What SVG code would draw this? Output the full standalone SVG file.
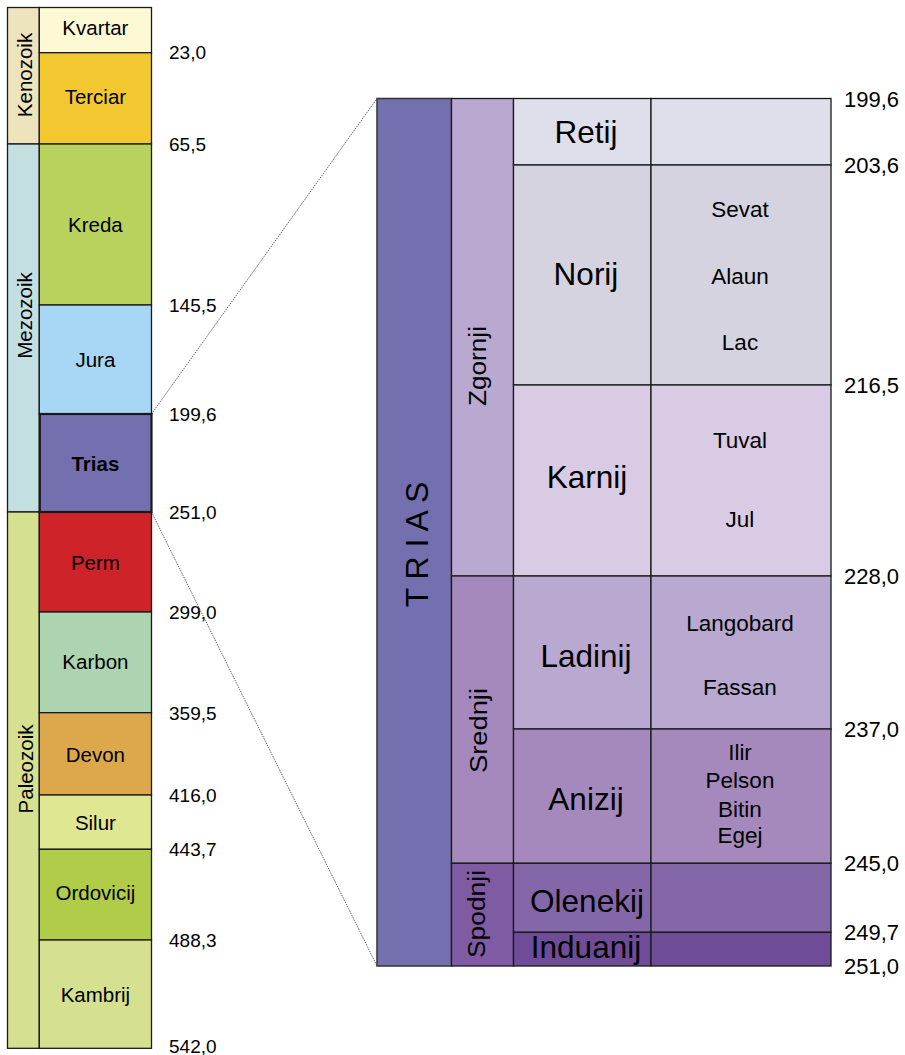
<svg xmlns="http://www.w3.org/2000/svg" width="905" height="1055" viewBox="0 0 905 1055">
<style>
  .b { stroke:#1a1a1a; stroke-width:1.3; }
  .t { font-family:"Liberation Sans", Arial, sans-serif; fill:#000; }
  .per { font-size:20.5px; text-anchor:middle; }
  .era { font-size:20.5px; text-anchor:middle; }
  .num { font-size:19px; }
  .rnum { font-size:22px; }
  .stg { font-size:31.5px; text-anchor:middle; }
  .sub { font-size:22.5px; text-anchor:middle; }
  .ep { font-size:23px; text-anchor:middle; }
  .con { stroke:#555; stroke-width:0.9; stroke-dasharray:1.5 1; fill:none; }
</style>
<rect width="905" height="1055" fill="#ffffff"/>

<g id="connectors">
  <line class="con" x1="151.5" y1="414" x2="377" y2="98.5"/>
  <line class="con" x1="151.5" y1="512" x2="377" y2="966"/>
</g>

<!-- Left column: eras -->
<g id="kenozoik">
  <rect class="b" x="7.5" y="7.5" width="31.8" height="136.5" fill="#ede3bc"/>
  <text class="t era" transform="translate(31.5,75) rotate(-90)">Kenozoik</text>
</g>
<g id="mezozoik">
  <rect class="b" x="7.5" y="144" width="31.8" height="368" fill="#c4dfe2"/>
  <text class="t era" transform="translate(31.5,315.5) rotate(-90)">Mezozoik</text>
</g>
<g id="paleozoik">
  <rect class="b" x="7.5" y="512" width="31.8" height="536.3" fill="#d5e190"/>
  <text class="t era" transform="translate(32.5,769) rotate(-90)">Paleozoik</text>
</g>

<!-- Left column: periods -->
<g id="kvartar">
  <rect class="b" x="39.3" y="7.5" width="112.2" height="45.2" fill="#fef9d5"/>
  <text class="t per" x="95.4" y="35">Kvartar</text>
</g>
<g id="terciar">
  <rect class="b" x="39.3" y="52.7" width="112.2" height="91.3" fill="#f2c72f"/>
  <text class="t per" x="95.4" y="103.5">Terciar</text>
</g>
<g id="kreda">
  <rect class="b" x="39.3" y="144" width="112.2" height="161" fill="#b8d25d"/>
  <text class="t per" x="95.4" y="231.5">Kreda</text>
</g>
<g id="jura">
  <rect class="b" x="39.3" y="305" width="112.2" height="109" fill="#a7d7f4"/>
  <text class="t per" x="95.4" y="366.5">Jura</text>
</g>
<g id="perm">
  <rect class="b" x="39.3" y="512" width="112.2" height="100" fill="#ce2329"/>
  <text class="t per" x="95.4" y="570">Perm</text>
</g>
<g id="karbon">
  <rect class="b" x="39.3" y="612" width="112.2" height="100.7" fill="#add4b1"/>
  <text class="t per" x="95.4" y="668.5">Karbon</text>
</g>
<g id="devon">
  <rect class="b" x="39.3" y="712.7" width="112.2" height="82.3" fill="#dda84c"/>
  <text class="t per" x="95.4" y="761.5">Devon</text>
</g>
<g id="silur">
  <rect class="b" x="39.3" y="795" width="112.2" height="54.3" fill="#e0e792"/>
  <text class="t per" x="95.4" y="830">Silur</text>
</g>
<g id="ordovicij">
  <rect class="b" x="39.3" y="849.3" width="112.2" height="90.7" fill="#b1cc48"/>
  <text class="t per" x="95.4" y="900">Ordovicij</text>
</g>
<g id="kambrij">
  <rect class="b" x="39.3" y="940" width="112.2" height="108.3" fill="#d5e190"/>
  <text class="t per" x="95.4" y="1001.5">Kambrij</text>
</g>
<g id="trias-small">
  <rect x="39.8" y="414" width="111.7" height="98" fill="#7470b0" stroke="#1a1a1a" stroke-width="2.2"/>
  <text class="t per" x="95.4" y="470.5" font-weight="bold">Trias</text>
</g>

<!-- Left numbers -->
<g id="left-ages">
  <text class="t num" x="169" y="59">23,0</text>
  <text class="t num" x="169" y="150.5">65,5</text>
  <text class="t num" x="169" y="311.5">145,5</text>
  <text class="t num" x="169" y="420.5">199,6</text>
  <text class="t num" x="169" y="518.5">251,0</text>
  <text class="t num" x="169" y="618.5">299,0</text>
  <text class="t num" x="169" y="719.5">359,5</text>
  <text class="t num" x="169" y="801.5">416,0</text>
  <text class="t num" x="169" y="855.5">443,7</text>
  <text class="t num" x="169" y="946.5">488,3</text>
  <text class="t num" x="169" y="1053">542,0</text>
</g>

<!-- Right table -->
<g id="trias-big">
  <rect x="377" y="98.5" width="74.5" height="867.5" fill="#7470b0" stroke="#333" stroke-width="1.5"/>
  <text class="t" font-size="32" text-anchor="middle" transform="translate(428,544.5) rotate(-90)">T R I A S</text>
</g>
<g id="zgornji">
  <rect class="b" x="451.5" y="98.5" width="62" height="477.5" fill="#b9a8cf"/>
  <text class="t ep" transform="translate(486,366) rotate(-90)" textLength="80" lengthAdjust="spacingAndGlyphs">Zgornji</text>
</g>
<g id="srednji">
  <rect class="b" x="451.5" y="576" width="62" height="287.3" fill="#a589bd"/>
  <text class="t ep" transform="translate(487,730.5) rotate(-90)" textLength="85" lengthAdjust="spacingAndGlyphs">Srednji</text>
</g>
<g id="spodnji">
  <rect class="b" x="451.5" y="863.3" width="62" height="102.7" fill="#7f5ba4"/>
  <text class="t ep" transform="translate(485,914) rotate(-90)" textLength="88" lengthAdjust="spacingAndGlyphs">Spodnji</text>
</g>

<g id="retij">
  <rect class="b" x="513.5" y="98.5" width="137.5" height="66.5" fill="#dedfea"/>
  <rect class="b" x="651" y="98.5" width="180" height="66.5" fill="#dedfea"/>
  <text class="t stg" x="586" y="143">Retij</text>
</g>
<g id="norij">
  <rect class="b" x="513.5" y="165" width="137.5" height="220" fill="#d6d3e1"/>
  <rect class="b" x="651" y="165" width="180" height="220" fill="#d6d3e1"/>
  <text class="t stg" x="586" y="285">Norij</text>
  <text class="t sub" x="740" y="216.7">Sevat</text>
  <text class="t sub" x="740" y="284">Alaun</text>
  <text class="t sub" x="740" y="350">Lac</text>
</g>
<g id="karnij">
  <rect class="b" x="513.5" y="385" width="137.5" height="191" fill="#d8cbe3"/>
  <rect class="b" x="651" y="385" width="180" height="191" fill="#d8cbe3"/>
  <text class="t stg" x="587" y="488.3">Karnij</text>
  <text class="t sub" x="740" y="448.3">Tuval</text>
  <text class="t sub" x="740" y="527.3">Jul</text>
</g>
<g id="ladinij">
  <rect class="b" x="513.5" y="576" width="137.5" height="153" fill="#b9a8cf"/>
  <rect class="b" x="651" y="576" width="180" height="153" fill="#b9a8cf"/>
  <text class="t stg" x="586" y="666.7">Ladinij</text>
  <text class="t sub" x="740" y="631">Langobard</text>
  <text class="t sub" x="740" y="695">Fassan</text>
</g>
<g id="anizij">
  <rect class="b" x="513.5" y="729" width="137.5" height="134.3" fill="#a589bd"/>
  <rect class="b" x="651" y="729" width="180" height="134.3" fill="#a589bd"/>
  <text class="t stg" x="586" y="810">Anizij</text>
  <text class="t sub" x="740" y="760">Ilir</text>
  <text class="t sub" x="740" y="788">Pelson</text>
  <text class="t sub" x="740" y="817">Bitin</text>
  <text class="t sub" x="740" y="843.3">Egej</text>
</g>
<g id="olenekij">
  <rect class="b" x="513.5" y="863.3" width="137.5" height="69" fill="#8467a8"/>
  <rect class="b" x="651" y="863.3" width="180" height="69" fill="#8467a8"/>
  <text class="t stg" x="587" y="911.7">Olenekij</text>
</g>
<g id="induanij">
  <rect class="b" x="513.5" y="932.3" width="137.5" height="33.7" fill="#6f4c97"/>
  <rect class="b" x="651" y="932.3" width="180" height="33.7" fill="#6f4c97"/>
  <text class="t stg" x="586" y="958.3">Induanij</text>
</g>

<g id="right-ages">
  <text class="t rnum" x="844" y="106.5">199,6</text>
  <text class="t rnum" x="844" y="173">203,6</text>
  <text class="t rnum" x="844" y="393">216,5</text>
  <text class="t rnum" x="844" y="584">228,0</text>
  <text class="t rnum" x="844" y="737">237,0</text>
  <text class="t rnum" x="844" y="871">245,0</text>
  <text class="t rnum" x="844" y="940">249,7</text>
  <text class="t rnum" x="844" y="974">251,0</text>
</g>
</svg>
